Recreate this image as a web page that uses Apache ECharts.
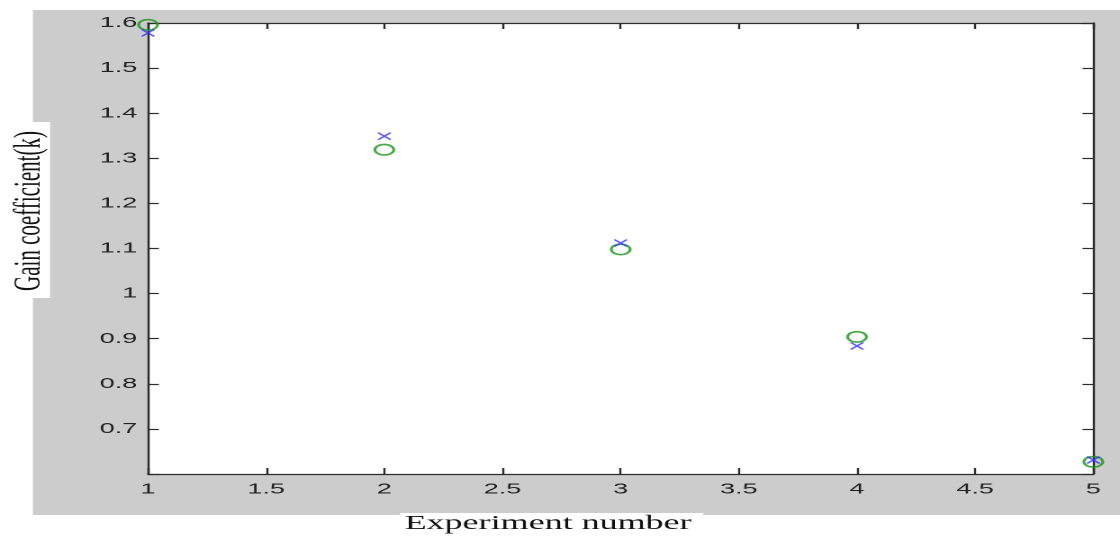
<!DOCTYPE html>
<html>
<head>
<meta charset="utf-8">
<script src="https://cdn.jsdelivr.net/npm/echarts@6/dist/echarts.min.js"></script>
<style>
  html, body { margin: 0; padding: 0; background: #ffffff; overflow: hidden; }
  #wrap { width: 1120px; height: 536px; overflow: hidden; position: relative; }
  /* The figure is laid out on a narrower canvas and widened horizontally */
  #chart { width: 622px; height: 536px; transform-origin: 0 0; transform: scaleX(1.8006); }
</style>
</head>
<body>
<div id="wrap"><div id="chart"></div></div>
<script>
// Experiment numbers and the gain coefficient k measured for each
const experiments = [1, 2, 3, 4, 5];
const gainCircle = [1.596, 1.319, 1.098, 0.904, 0.627];
const gainCross = [1.578, 1.349, 1.112, 0.884, 0.631];

const xTitle = 'Experiment number';
const yTitle = 'Gain coefficient(k)';

const axisColor = '#2b2b2b';
const labelFont = '"Liberation Sans", Arial, sans-serif';
const titleFont = '"Liberation Serif", "Times New Roman", serif';

const chart = echarts.init(document.getElementById('chart'), null, { renderer: 'canvas', devicePixelRatio: 2 });

const tickStyle = { show: true, inside: true, length: 6, lineStyle: { color: axisColor, width: 1.2 } };
const lineStyle = { show: true, onZero: false, lineStyle: { color: axisColor, width: 1.2 } };

chart.setOption({
  backgroundColor: '#ffffff',
  animation: false,
  graphic: [
    { type: 'rect', z: -10, shape: { x: 18.3, y: 10, width: 622 - 18.3, height: 505 }, style: { fill: '#cccccc' }, silent: true },
    { type: 'rect', z: 10, shape: { x: 6.1, y: 122, width: 21.7, height: 176 }, style: { fill: '#ffffff' }, silent: true },
    { type: 'text', z: 11, x: 16.5, y: 211, rotation: Math.PI / 2,
      style: { text: yTitle, fontFamily: titleFont, fontSize: 21, fill: '#111111', align: 'center', verticalAlign: 'middle' } },
    { type: 'rect', z: 10, shape: { x: 222.2, y: 513, width: 168.4, height: 23 }, style: { fill: '#ffffff' }, silent: true },
    { type: 'text', z: 11, x: 304.4, y: 523.5,
      style: { text: xTitle, fontFamily: titleFont, fontSize: 20, fill: '#111111', align: 'center', verticalAlign: 'middle' } }
  ],
  grid: {
    left: 82.2, right: 14.8, top: 23, bottom: 62,
    show: true, backgroundColor: '#ffffff', borderWidth: 0
  },
  xAxis: [
    {
      type: 'value', position: 'bottom', min: 1, max: 5, interval: 0.5,
      axisLine: lineStyle, axisTick: tickStyle, splitLine: { show: false },
      axisLabel: { margin: 8, color: '#222222', fontFamily: labelFont, fontSize: 15 }
    },
    {
      type: 'value', position: 'top', min: 1, max: 5, interval: 0.5,
      axisLine: lineStyle, axisTick: tickStyle, splitLine: { show: false },
      axisLabel: { show: false }
    }
  ],
  yAxis: [
    {
      type: 'value', position: 'left', min: 0.6, max: 1.6, interval: 0.1,
      axisLine: lineStyle, axisTick: tickStyle, splitLine: { show: false },
      axisLabel: {
        margin: 6, color: '#222222', fontFamily: labelFont, fontSize: 15,
        formatter: v => (v < 0.65 ? '' : String(Math.round(v * 10) / 10))
      }
    },
    {
      type: 'value', position: 'right', min: 0.6, max: 1.6, interval: 0.1,
      axisLine: lineStyle, axisTick: tickStyle, splitLine: { show: false },
      axisLabel: { show: false }
    }
  ],
  series: [
    {
      name: 'k (o)', type: 'scatter', clip: false, z: 5,
      symbol: 'circle', symbolSize: 10.5,
      itemStyle: { color: 'rgba(0,0,0,0)', borderColor: '#169716', borderWidth: 1.6 },
      data: experiments.map((e, i) => [e, gainCircle[i]])
    },
    {
      name: 'k (x)', type: 'scatter', clip: false, z: 6,
      symbol: 'path://M0,0L10,10M10,0L0,10', symbolSize: 7,
      itemStyle: { color: 'none', borderColor: '#3434ff', borderWidth: 1.3 },
      data: experiments.map((e, i) => [e, gainCross[i]])
    }
  ]
});
</script>
</body>
</html>
